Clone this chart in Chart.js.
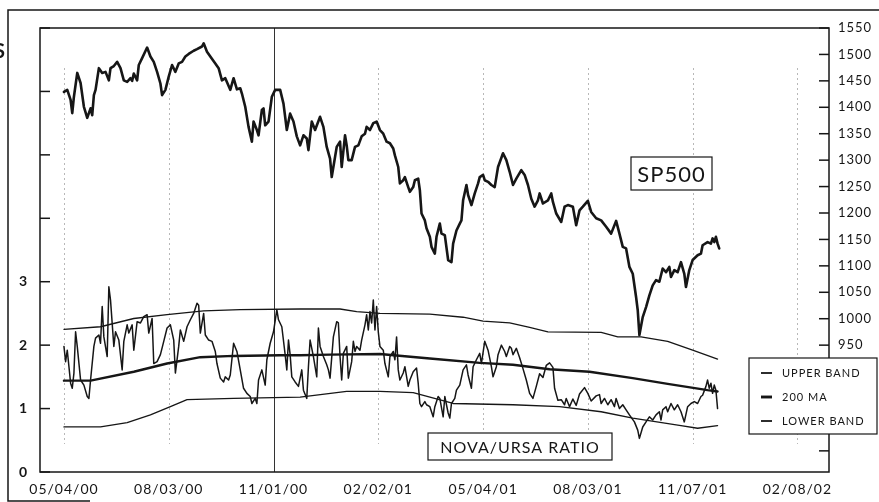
<!DOCTYPE html>
<html>
<head>
<meta charset="utf-8">
<script src="https://cdn.jsdelivr.net/npm/chart.js@4.4.1/dist/chart.umd.min.js"></script>
<style>
  html, body { margin: 0; padding: 0; background: #fff; }
  canvas { display: block; }
</style>
</head>
<body>
<canvas id="ratioChart" width="879" height="502"></canvas>
<script>
// x = trading days since 05/04/00, one tick label every 63 days
const dateLabels = ['05/04/00', '08/03/00', '11/01/00', '02/02/01', '05/04/01', '08/03/01', '11/07/01', '02/08/02'];
const dayStep = 63;

const spDays = [
  0,2,4,5,6,8,10,12,14,16, 17,18,19,21,23,25,27,28,30,32, 34,36,38,40,41,42,44,45,47,50,
  52,54,56,58,59,61,63,65,67,69, 71,73,75,78,80,83,84,86,88,91, 93,95,97,100,102,104,106,107,109,111,
  113,114,116,117,119,120,121,123,125,127, 130,132,134,136,138,140,142,144,146,147, 149,151,154,156,158,160,161,163,164,166,
  167,169,170,171,173,175,177,179,181,182, 184,186,188,190,192,194,196,198,199,201, 202,204,205,207,208,210,211,213,214,215,
  217,218,220,221,223,224,226,227,229,231, 233,234,236,238,239,240,242,243,245,247, 249,250,252,253,255,257,259,261,264,266,
  268,270,272,275,277,279,281,283,285,286, 288,291,293,294,296,299,301,303,306,308, 310,312,315,317,320,323,326,329,332,334,
  336,338,340,342,344,345,346,348,350,352, 354,356,358,360,362,364,365,367,369,371, 373,374,376,378,381,383,384,387,389,390,
  391,392,393,394
];
const spClose = [
  1429,1433,1414,1389,1420,1465,1446,1401,1380,1398, 1385,1423,1433,1474,1465,1467,1451,1474,1478,1486, 1474,1451,1448,1455,1450,1464,1451,1480,1493,1513,
  1496,1486,1467,1445,1423,1433,1458,1480,1467,1483, 1486,1496,1501,1507,1510,1515,1521,1505,1496,1483, 1474,1451,1455,1433,1455,1434,1436,1426,1401,1363,
  1335,1373,1357,1347,1395,1398,1366,1373,1420,1433, 1433,1407,1357,1388,1373,1345,1328,1347,1341,1319, 1373,1357,1382,1363,1325,1303,1268,1306,1325,1335,
  1287,1347,1328,1300,1300,1325,1328,1345,1350,1363, 1357,1370,1373,1357,1350,1335,1332,1322,1309,1287, 1256,1262,1268,1249,1240,1249,1262,1265,1243,1199,
  1186,1171,1155,1136,1123,1155,1180,1161,1158,1111, 1107,1142,1167,1180,1186,1224,1253,1234,1215,1237, 1256,1268,1272,1262,1259,1253,1249,1287,1313,1300,
  1278,1253,1265,1281,1272,1253,1227,1212,1224,1237, 1218,1224,1237,1221,1199,1183,1212,1215,1212,1177, 1205,1212,1223,1202,1190,1186,1174,1161,1185,1161,
  1136,1133,1098,1085,1041,1016,969,1003,1022,1044, 1063,1073,1070,1095,1088,1098,1079,1092,1088,1107, 1085,1060,1092,1111,1120,1123,1139,1145,1142,1152,
  1145,1155,1142,1133
];

const ratioDays = [
  0,1,2,4,5,6,7,8,10,12, 14,15,16,18,19,21,22,23,24,26, 27,28,30,31,33,35,36,38,39,41,
  42,44,46,48,50,51,53,54,56,58, 60,62,64,66,67,69,70,72,74,76, 78,80,81,82,84,85,87,89,91,92,
  94,96,97,99,100,102,104,106,108,110, 112,113,115,116,117,119,121,122,124,126, 128,129,131,133,134,135,136,137,139,141,
  143,144,146,147,148,150,152,153,154,156, 158,159,160,162,164,165,166,167,168,170, 171,173,174,175,176,178,179,181,182,183,
  184,185,186,187,188,189,190,192,193,195, 196,198,199,200,201,202,204,205,207,208, 210,212,213,214,215,217,218,220,222,223,
  225,226,228,229,231,232,233,235,236,238, 240,242,243,245,246,248,250,251,253,255, 257,258,260,261,263,265,266,268,269,270,
  272,274,276,278,280,282,284,286,288,290, 292,294,295,297,299,301,302,304,306,308, 310,313,315,317,320,322,323,325,327,329,
  331,332,334,336,338,340,343,345,346,348, 350,352,354,356,358,359,360,362,363,365, 367,369,371,373,375,377,379,381,383,384,
  386,387,388,389,390,391,392,393
];
const ratioValues = [
  1.98,1.74,1.92,1.40,1.32,1.56,2.21,1.98,1.45,1.37, 1.19,1.16,1.45,1.98,2.11,2.16,2.03,2.61,2.13,1.82, 2.92,2.71,1.98,2.21,2.08,1.61,2.06,2.32,2.19,2.32,
  1.92,2.37,2.35,2.45,2.48,2.19,2.42,1.71,1.74,1.85, 2.06,2.27,2.32,2.08,1.56,1.98,2.24,2.06,2.29,2.40, 2.50,2.66,2.63,2.19,2.50,2.16,2.08,2.06,1.90,1.71,
  1.48,1.42,1.50,1.45,1.53,2.03,1.90,1.61,1.32,1.24, 1.19,1.08,1.16,1.08,1.45,1.61,1.37,1.77,2.03,2.21, 2.56,2.40,2.29,1.85,1.61,2.08,1.85,1.50,1.42,1.35,
  1.61,1.29,1.16,1.66,2.08,1.82,1.50,2.27,1.98,1.82, 1.69,1.61,1.48,2.13,2.37,2.35,1.82,1.45,1.87,1.98, 1.48,1.74,2.06,1.90,1.98,1.92,2.08,2.32,2.48,2.24,
  2.53,2.35,2.71,2.24,2.61,2.21,1.98,1.92,1.71,1.50, 1.82,1.90,1.77,2.13,1.61,1.45,1.56,1.66,1.35,1.45, 1.58,1.64,1.40,1.08,1.03,1.11,1.06,1.03,0.87,1.03,
  1.19,1.16,0.87,1.19,0.93,0.85,1.08,1.16,1.29,1.37, 1.61,1.69,1.53,1.32,1.66,1.77,1.87,1.71,2.06,1.92, 1.66,1.50,1.66,1.85,2.00,1.90,1.82,1.98,1.95,1.85,
  1.95,1.80,1.63,1.45,1.24,1.16,1.35,1.55,1.49,1.68, 1.72,1.65,1.32,1.13,1.14,1.06,1.16,1.03,1.15,1.05, 1.23,1.33,1.24,1.12,1.20,1.22,1.08,1.16,1.06,1.14,
  1.03,1.16,1.00,1.06,0.98,0.90,0.79,0.66,0.53,0.71, 0.79,0.87,0.82,0.90,0.95,0.82,0.98,1.03,0.95,1.08, 0.98,1.06,0.95,0.79,1.03,1.08,1.11,1.08,1.19,1.21,
  1.35,1.45,1.32,1.40,1.24,1.37,1.29,1.00
];

const upperDays = [0,22,42,62,84,106,142,166,176,190,220,240,252,268,280,291,323,333,347,363,378,393];
const upperBand = [2.25,2.29,2.42,2.48,2.54,2.56,2.57,2.57,2.53,2.50,2.49,2.44,2.38,2.35,2.28,2.21,2.20,2.13,2.13,2.06,1.92,1.78];

const maDays = [0,16,42,62,82,102,130,142,160,190,220,250,270,292,316,342,363,387,393];
const maValues = [1.44,1.44,1.58,1.71,1.81,1.83,1.84,1.84,1.85,1.86,1.79,1.72,1.69,1.62,1.58,1.48,1.39,1.29,1.27];

const lowerDays = [0,22,38,52,64,74,102,142,170,190,210,234,270,298,323,342,371,381,393];
const lowerBand = [0.71,0.71,0.78,0.90,1.03,1.14,1.16,1.18,1.27,1.27,1.25,1.08,1.06,1.03,0.95,0.85,0.73,0.69,0.73];

const leftTicks = [0, 1, 2, 3, 4, 5, 6, 7];
const rightTicks = [750, 800, 850, 900, 950, 1000, 1050, 1100, 1150, 1200, 1250, 1300, 1350, 1400, 1450, 1500, 1550];

const ink = '#161616';
const fontFam = 'Lato, "Open Sans", sans-serif';

function pairs(xs, ys) {
  return xs.map((x, i) => ({ x: x, y: ys[i] }));
}

const chartFrame = {
  id: 'chartFrame',
  beforeDraw(chart) {
    chart.ctx.letterSpacing = '1px';
  },
  beforeDatasetsDraw(chart) {
    const { ctx, chartArea: a, scales } = chart;
    ctx.save();
    dateLabels.forEach((lab, i) => {
      const px = Math.round(scales.x.getPixelForValue(i * dayStep)) + 0.5;
      ctx.beginPath();
      if (i === 2) {
        ctx.strokeStyle = '#333';
        ctx.lineWidth = 1;
        ctx.setLineDash([]);
        ctx.moveTo(px, a.top);
        ctx.lineTo(px, a.bottom);
      } else {
        ctx.strokeStyle = '#b8b8b8';
        ctx.lineWidth = 1;
        ctx.setLineDash([2, 3]);
        ctx.moveTo(px, a.top + 40);
        ctx.lineTo(px, a.bottom - 28);
      }
      ctx.stroke();
    });
    ctx.restore();
  },
  afterDatasetsDraw(chart) {
    const { ctx, chartArea: a, scales } = chart;
    ctx.save();
    ctx.strokeStyle = ink;
    ctx.fillStyle = ink;

    // plot frame
    ctx.lineWidth = 1.5;
    ctx.strokeRect(a.left, a.top, a.right - a.left, a.bottom - a.top);

    // inward tick marks
    leftTicks.forEach(v => {
      const py = scales.y.getPixelForValue(v);
      ctx.beginPath();
      ctx.moveTo(a.left, py);
      ctx.lineTo(a.left + 10, py);
      ctx.stroke();
    });
    rightTicks.forEach(v => {
      const py = scales.y2.getPixelForValue(v);
      ctx.beginPath();
      ctx.moveTo(a.right - 10, py);
      ctx.lineTo(a.right, py);
      ctx.stroke();
    });

    // outer page frame
    ctx.beginPath();
    ctx.moveTo(879, 10);
    ctx.lineTo(8, 10);
    ctx.lineTo(8, 501);
    ctx.lineTo(90, 501);
    ctx.stroke();
    ctx.font = 'bold 20px ' + fontFam;
    ctx.textAlign = 'right';
    ctx.textBaseline = 'middle';
    ctx.fillText('S', 6, 52);

    // labelled boxes
    function labelBox(text, x, y, w, h, size) {
      ctx.fillStyle = '#fff';
      ctx.fillRect(x, y, w, h);
      ctx.lineWidth = 1.2;
      ctx.strokeRect(x, y, w, h);
      ctx.fillStyle = ink;
      ctx.font = size + 'px ' + fontFam;
      ctx.textAlign = 'center';
      ctx.textBaseline = 'middle';
      ctx.fillText(text, x + w / 2, y + h / 2 + 1);
    }
    labelBox('SP500', 631, 157, 81, 33, 22);
    labelBox('NOVA/URSA RATIO', 428, 433, 184, 27, 16);

    // legend
    ctx.fillStyle = '#fff';
    ctx.fillRect(749, 358, 128, 76);
    ctx.lineWidth = 1.2;
    ctx.strokeRect(749, 358, 128, 76);
    const legendRows = [
      { ds: chart.data.datasets[0], y: 373 },
      { ds: chart.data.datasets[1], y: 397 },
      { ds: chart.data.datasets[2], y: 421 }
    ];
    ctx.font = '11px ' + fontFam;
    ctx.textAlign = 'left';
    ctx.textBaseline = 'middle';
    legendRows.forEach(r => {
      ctx.fillStyle = ink;
      ctx.lineWidth = r.ds.borderWidth + 0.5;
      ctx.beginPath();
      ctx.moveTo(761, r.y);
      ctx.lineTo(772, r.y);
      ctx.stroke();
      ctx.fillText(r.ds.label, 782, r.y);
    });
    ctx.restore();
  }
};

new Chart(document.getElementById('ratioChart'), {
  type: 'line',
  data: {
    datasets: [
      { label: 'UPPER BAND', data: pairs(upperDays, upperBand), yAxisID: 'y', borderColor: ink, borderWidth: 1.3 },
      { label: '200 MA', data: pairs(maDays, maValues), yAxisID: 'y', borderColor: ink, borderWidth: 2.4 },
      { label: 'LOWER BAND', data: pairs(lowerDays, lowerBand), yAxisID: 'y', borderColor: ink, borderWidth: 1.3 },
      { label: 'NOVA/URSA RATIO', data: pairs(ratioDays, ratioValues), yAxisID: 'y', borderColor: ink, borderWidth: 1.5 },
      { label: 'SP500', data: pairs(spDays, spClose), yAxisID: 'y2', borderColor: ink, borderWidth: 2.6 }
    ]
  },
  options: {
    responsive: false,
    animation: false,
    devicePixelRatio: 1,
    layout: { padding: { top: 28, left: 0, right: 0, bottom: 0 } },
    elements: {
      point: { radius: 0 },
      line: { tension: 0, fill: false, borderJoinStyle: 'round', borderCapStyle: 'round' }
    },
    plugins: { legend: { display: false }, tooltip: { enabled: false } },
    scales: {
      x: {
        type: 'linear',
        min: -14.4,
        max: 460,
        grid: { display: false, drawTicks: false },
        border: { display: false },
        afterBuildTicks: s => { s.ticks = dateLabels.map((_, i) => ({ value: i * dayStep })); },
        afterFit: s => { s.height = 30; },
        ticks: {
          autoSkip: false,
          maxRotation: 0,
          padding: 9,
          color: ink,
          font: { family: fontFam, size: 14 },
          callback: v => dateLabels[Math.round(v / dayStep)]
        }
      },
      y: {
        position: 'left',
        min: 0,
        max: 7,
        grid: { display: false, drawTicks: false },
        border: { display: false },
        afterBuildTicks: s => { s.ticks = leftTicks.map(v => ({ value: v })); },
        afterFit: s => { s.width = 40; },
        ticks: {
          autoSkip: false,
          padding: 12,
          color: ink,
          font: { family: fontFam, size: 14, weight: 'bold' },
          callback: v => (v <= 3 ? String(v) : '')
        }
      },
      y2: {
        position: 'right',
        min: 710,
        max: 1550,
        grid: { display: false, drawTicks: false },
        border: { display: false },
        afterBuildTicks: s => { s.ticks = rightTicks.map(v => ({ value: v })); },
        afterFit: s => { s.width = 50; },
        ticks: {
          autoSkip: false,
          padding: 9,
          color: ink,
          font: { family: fontFam, size: 13 },
          callback: v => (v >= 950 ? String(v) : '')
        }
      }
    }
  },
  plugins: [chartFrame]
});
</script>
</body>
</html>
